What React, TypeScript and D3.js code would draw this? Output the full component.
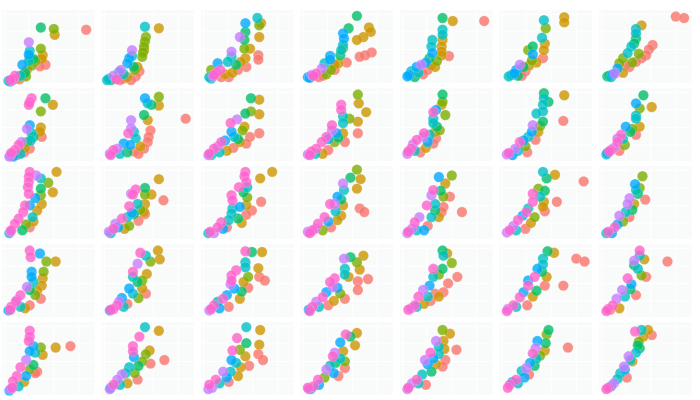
import React from "react";
import * as d3 from "d3";

type Pt = [number, number, number];

const hueColors = ["#F8766D", "#CD9600", "#7CAE00", "#00BE67", "#00BFC4", "#00A9FF", "#C77CFF", "#FF61CC"];
const nCols = 7;
const xTicks = [3, 29, 56, 83];
const yTicks = [22, 46, 70, 94];

const row0: Pt[][] = [
  [[91,73,0],[56,74,2],[42,76,3],[57,66,1],[29,56,6],[42,47,2],[44,38,1],[43,33,1],[47,25,0],[41,23,0],[30,44,4],[29,39,5],[30,35,3],[29,30,4],[34,33,3],[36,30,2],[32,24,2],[22,25,5],[27,18,1],[25,14,3],[23,11,0],[20,10,4],[14,10,7],[12,6,7],[9,4,7],[9,2,4],[12,4,6],[16,6,1],[18,8,0],[7,3,4],[19,5,0],[26,9,2]],
  [[47,77,4],[62,75,1],[48,63,2],[47,57,2],[46,50,2],[46,45,1],[45,42,2],[44,36,2],[33,45,6],[33,37,4],[30,34,5],[28,27,5],[35,22,3],[39,22,1],[41,16,0],[37,9,0],[21,18,6],[19,15,5],[24,12,4],[13,10,6],[8,6,4],[10,4,3],[16,5,7],[24,6,0],[32,4,0],[28,8,1],[6,4,4],[20,4,0],[36,18,2]],
  [[61,89,4],[65,82,1],[63,79,2],[48,82,5],[48,70,3],[47,59,3],[42,63,6],[63,63,1],[47,47,2],[53,47,1],[33,43,6],[62,38,0],[62,32,0],[49,22,0],[48,34,1],[43,29,1],[33,36,4],[29,29,4],[38,25,3],[40,18,0],[18,27,5],[11,18,2],[21,18,7],[17,15,7],[13,9,6],[11,6,4],[14,11,7],[26,12,1],[30,8,0],[9,8,4],[22,8,0],[34,14,1]],
  [[61,92,3],[52,75,3],[74,76,1],[76,70,1],[68,63,1],[61,59,1],[46,68,5],[47,61,5],[46,52,4],[46,48,2],[44,45,4],[43,38,3],[77,42,0],[70,38,0],[64,36,0],[50,28,0],[32,37,5],[32,32,5],[41,27,1],[37,25,1],[37,18,0],[26,27,4],[23,20,6],[17,13,7],[12,11,6],[8,8,5],[20,8,0],[28,12,2],[10,7,5],[14,10,7],[24,10,0],[33,18,2]],
  [[46,89,3],[57,85,1],[91,85,0],[46,73,4],[46,66,4],[46,59,1],[45,50,1],[45,43,1],[45,38,1],[53,37,0],[35,59,4],[34,50,4],[35,41,5],[32,34,3],[40,30,2],[23,25,6],[18,22,5],[12,16,4],[10,11,5],[30,18,0],[25,12,0],[16,8,3],[38,22,1],[8,9,5],[20,14,4],[28,28,5],[34,24,1]],
  [[48,86,4],[70,90,1],[70,83,1],[50,75,2],[46,62,4],[49,54,1],[48,45,1],[47,34,0],[36,50,3],[31,45,2],[36,39,5],[35,31,2],[40,28,1],[22,25,6],[18,18,5],[13,11,4],[20,10,3],[28,16,0],[10,9,4],[16,13,5],[26,22,3],[32,24,1],[24,10,0]],
  [[83,91,0],[92,89,0],[46,79,1],[40,74,4],[40,68,4],[40,61,3],[38,54,3],[58,52,0],[54,46,0],[51,38,0],[46,34,0],[40,29,0],[35,50,4],[31,41,4],[26,34,2],[22,27,2],[33,22,0],[20,20,5],[17,13,6],[9,9,3],[13,8,4],[26,14,1],[11,10,3],[15,12,5],[29,24,0],[36,28,2],[43,40,2]],
];

const row1: Pt[][] = [
  [[32,86,7],[30,81,7],[29,77,7],[47,86,3],[55,77,1],[42,68,2],[30,49,5],[27,44,6],[42,46,1],[41,40,1],[32,38,4],[34,33,3],[43,33,0],[27,26,2],[21,26,6],[30,17,0],[25,18,1],[18,22,7],[14,15,7],[10,11,7],[9,8,6],[12,6,5],[20,10,4],[16,8,0],[8,6,6],[24,12,0],[31,28,4]],
  [[47,86,5],[62,88,2],[50,79,4],[54,77,3],[62,76,1],[91,58,0],[46,63,3],[50,56,1],[32,56,6],[32,45,6],[35,40,4],[29,38,7],[37,31,4],[53,42,0],[51,33,0],[50,26,0],[46,17,0],[24,24,5],[17,17,6],[13,15,7],[10,8,7],[35,13,0],[42,20,1],[28,12,3],[9,10,6],[20,10,4],[31,22,5],[40,10,0]],
  [[54,86,3],[63,84,1],[54,68,2],[48,65,3],[63,64,1],[39,57,6],[32,52,7],[47,47,1],[45,42,2],[63,38,0],[53,33,0],[49,24,0],[33,40,5],[36,33,4],[40,30,3],[22,26,7],[18,20,6],[14,17,7],[9,10,7],[11,8,4],[28,14,1],[35,18,0],[8,8,6],[20,12,4],[26,28,5],[42,26,1]],
  [[62,91,2],[63,79,1],[71,67,1],[44,77,7],[44,70,7],[46,61,4],[46,52,4],[53,58,2],[62,54,1],[62,38,0],[39,38,5],[34,42,6],[34,49,7],[28,33,7],[46,38,1],[48,26,0],[37,26,2],[23,26,7],[17,17,7],[12,13,7],[8,9,6],[30,15,0],[24,10,1],[10,8,7],[16,10,4],[30,30,5],[41,32,3]],
  [[46,91,3],[46,81,2],[45,77,1],[39,70,5],[36,67,7],[49,63,2],[36,58,4],[36,52,4],[40,47,3],[38,40,1],[26,38,7],[25,33,6],[39,31,0],[36,24,0],[30,26,5],[18,29,7],[14,23,6],[12,17,7],[9,13,7],[22,12,0],[28,18,1],[8,10,6],[16,14,4],[32,36,4],[43,42,2]],
  [[48,93,3],[48,86,4],[53,81,3],[47,77,4],[47,68,4],[70,90,1],[69,55,0],[47,54,3],[40,65,4],[36,49,6],[35,40,5],[42,40,1],[31,33,4],[39,29,0],[22,26,7],[28,20,2],[17,17,6],[10,11,7],[14,8,5],[30,12,0],[8,9,6],[20,14,4],[26,28,5],[44,48,2]],
  [[48,90,3],[57,74,1],[40,79,5],[44,72,2],[40,62,4],[40,58,4],[44,47,1],[29,47,5],[40,36,0],[34,40,3],[24,36,7],[20,31,6],[20,26,7],[28,22,2],[13,15,7],[11,13,7],[8,9,4],[22,14,0],[9,11,5],[16,18,6],[26,30,4],[36,44,2]],
];

const row2: Pt[][] = [
  [[59,92,1],[30,92,7],[29,85,7],[29,78,7],[28,71,7],[29,62,7],[37,87,6],[42,83,4],[50,77,2],[55,64,1],[42,69,3],[42,60,2],[43,48,1],[38,39,1],[30,46,5],[33,30,4],[25,46,7],[23,37,7],[18,28,7],[14,21,7],[30,16,0],[10,12,7],[9,10,6],[22,12,3],[8,8,4],[26,20,2],[34,24,1],[36,56,5]],
  [[62,82,1],[67,53,0],[47,70,3],[47,61,2],[54,61,1],[37,68,7],[34,61,7],[32,62,6],[30,45,7],[39,48,4],[47,48,1],[46,37,1],[47,34,0],[33,36,5],[35,34,3],[40,25,0],[22,28,7],[15,21,6],[13,14,7],[8,10,6],[25,14,1],[30,18,2],[10,8,4],[18,16,5],[28,30,4],[42,40,2]],
  [[48,92,7],[47,86,7],[49,78,7],[50,71,4],[64,83,1],[77,92,1],[65,51,0],[41,71,7],[33,60,7],[34,53,7],[50,57,2],[49,46,1],[42,44,5],[34,42,4],[33,35,4],[55,39,0],[49,33,0],[40,28,3],[44,22,1],[22,23,7],[18,16,7],[10,10,7],[14,8,6],[28,16,0],[8,8,4],[24,14,5],[30,26,4],[46,64,3]],
  [[61,95,2],[54,84,3],[65,82,1],[61,69,1],[46,76,6],[47,67,4],[40,58,5],[44,54,3],[64,42,0],[69,37,0],[32,48,7],[37,48,6],[46,46,1],[44,32,1],[38,38,4],[26,30,7],[33,16,0],[19,21,7],[13,12,7],[8,10,6],[24,12,2],[10,8,7],[16,14,6],[30,24,5],[40,26,1]],
  [[42,85,5],[56,87,2],[49,76,1],[36,67,7],[34,60,6],[47,58,2],[54,58,0],[67,37,0],[47,44,0],[45,37,0],[29,46,7],[38,48,4],[38,39,3],[42,30,1],[21,30,6],[16,23,7],[9,10,7],[13,14,6],[30,18,0],[26,12,5],[8,8,6],[18,12,4],[34,30,4],[44,66,3]],
  [[47,92,4],[60,88,1],[51,83,3],[91,79,0],[42,69,2],[49,66,3],[36,62,7],[36,51,7],[48,51,1],[47,44,1],[62,51,0],[49,38,0],[31,42,4],[29,37,7],[25,32,5],[38,30,2],[20,26,7],[15,18,6],[11,12,7],[28,14,0],[8,9,6],[18,12,4],[34,22,1],[44,58,4]],
  [[47,86,2],[39,75,5],[40,67,4],[42,62,3],[50,54,0],[33,56,6],[31,48,6],[38,48,1],[29,37,4],[33,30,0],[22,32,6],[26,24,2],[17,16,7],[10,10,7],[14,8,5],[8,8,4],[20,20,5],[36,40,3],[44,70,2]],
];

const row3: Pt[][] = [
  [[30,91,7],[31,82,7],[41,87,5],[48,76,2],[58,76,1],[32,62,5],[32,55,5],[45,62,2],[44,53,1],[43,43,1],[27,41,6],[42,25,0],[30,37,3],[36,30,2],[20,30,7],[16,23,6],[15,21,7],[10,14,7],[7,9,5],[30,16,0],[25,12,1],[9,10,7],[20,14,4],[34,48,4],[38,36,1]],
  [[42,88,7],[61,91,1],[63,79,1],[48,84,4],[53,76,2],[39,73,6],[34,62,7],[34,55,4],[39,48,3],[30,39,5],[49,59,1],[44,39,1],[48,32,0],[40,26,2],[19,21,6],[17,16,7],[13,11,7],[28,18,0],[24,14,4],[9,9,5],[22,26,5],[34,32,4],[44,50,2],[10,10,7]],
  [[48,90,7],[55,89,3],[66,89,1],[62,67,1],[63,55,0],[69,50,0],[48,75,4],[48,68,4],[38,64,7],[51,55,2],[33,57,7],[33,50,7],[32,45,6],[36,39,5],[51,40,0],[44,35,3],[42,25,1],[24,25,7],[18,21,4],[14,16,7],[11,11,7],[30,14,0],[9,9,6],[20,12,5],[28,30,5],[46,48,1]],
  [[68,84,1],[54,82,3],[61,75,2],[64,65,1],[47,80,6],[48,66,4],[48,58,4],[73,52,0],[62,49,0],[62,37,0],[37,53,7],[32,48,7],[35,41,6],[52,55,1],[43,32,2],[40,40,5],[48,25,0],[24,27,7],[17,21,6],[13,14,7],[9,10,5],[30,16,0],[10,8,7],[20,14,4],[28,34,5],[36,22,1]],
  [[46,91,3],[47,84,4],[51,87,1],[56,74,2],[36,66,7],[46,66,3],[62,55,0],[52,46,0],[47,34,0],[36,55,4],[32,43,5],[38,32,0],[42,28,1],[25,37,6],[20,28,7],[16,16,7],[12,12,6],[26,18,1],[9,10,7],[18,14,4],[30,28,4],[42,58,2],[33,22,0]],
  [[83,80,0],[92,76,0],[52,90,3],[59,88,1],[47,80,4],[47,72,4],[41,66,5],[38,55,7],[51,55,1],[69,43,0],[49,43,0],[31,50,5],[31,43,7],[40,36,3],[22,27,7],[15,16,7],[9,11,6],[30,16,0],[8,8,7],[18,14,4],[26,34,5],[36,28,1],[46,62,3]],
  [[44,91,7],[38,77,6],[49,79,1],[42,66,4],[38,71,3],[74,76,0],[51,55,0],[46,57,2],[31,53,7],[35,45,5],[40,30,0],[25,37,6],[19,25,6],[15,16,7],[10,11,7],[22,12,1],[8,8,7],[28,28,4],[34,38,3],[44,84,4],[12,10,0]],
];

const row4: Pt[][] = [
  [[30,88,7],[30,80,7],[29,74,7],[58,65,1],[74,67,0],[34,67,5],[30,60,5],[42,65,2],[44,55,1],[36,58,4],[34,41,3],[26,48,6],[30,35,2],[38,32,0],[20,38,7],[16,26,7],[12,19,7],[11,10,7],[8,6,5],[24,18,1],[9,8,6],[18,12,4],[26,26,5],[36,30,0]],
  [[47,93,4],[62,88,1],[41,80,7],[34,67,7],[34,60,7],[35,52,5],[52,61,1],[48,56,2],[68,48,0],[53,43,0],[40,40,3],[30,38,4],[39,21,0],[22,28,6],[17,21,6],[13,14,7],[10,10,5],[28,16,1],[9,8,6],[20,14,4],[26,30,4],[36,30,2],[44,46,2]],
  [[49,93,4],[64,89,1],[39,78,7],[49,71,3],[63,69,1],[34,61,7],[42,62,2],[33,48,5],[48,53,1],[62,56,0],[67,48,0],[52,40,0],[43,38,1],[32,32,4],[24,32,6],[16,21,7],[9,14,7],[12,10,6],[30,18,0],[8,8,6],[20,16,4],[28,24,5],[38,44,4],[40,26,1]],
  [[61,85,1],[49,83,7],[54,80,3],[59,68,1],[43,72,5],[37,58,6],[35,53,7],[43,50,4],[48,46,2],[48,37,0],[28,35,6],[36,30,5],[41,26,0],[26,24,2],[19,21,7],[14,12,7],[8,10,7],[11,8,4],[9,8,6],[20,14,5],[32,40,4],[46,60,1],[38,44,3]],
  [[46,89,2],[54,84,1],[39,74,6],[47,74,1],[48,63,1],[61,62,0],[33,58,7],[42,56,4],[27,48,6],[30,42,5],[49,48,0],[39,42,1],[46,39,0],[34,32,3],[24,28,4],[18,21,7],[13,16,6],[9,10,7],[28,14,0],[8,8,6],[20,16,4],[36,50,5],[42,66,4]],
  [[53,89,3],[51,83,2],[50,71,3],[41,74,5],[49,61,1],[74,65,0],[39,64,6],[36,57,7],[40,50,4],[33,44,5],[29,37,6],[24,33,4],[32,28,0],[18,21,7],[14,18,5],[11,14,7],[9,10,7],[20,16,4],[27,24,5],[38,40,3],[44,54,2]],
  [[39,87,7],[46,89,4],[53,89,1],[57,82,0],[48,80,1],[43,73,2],[44,64,3],[40,58,4],[32,53,6],[36,46,1],[27,39,6],[28,35,5],[23,30,4],[30,24,0],[16,16,6],[13,12,5],[10,10,7],[8,8,7],[20,22,4],[34,48,4],[42,68,3]],
];

const panels: Pt[][] = [...row0, ...row1, ...row2, ...row3, ...row4];

const W = 700;
const H = 400;
const panelW = 92.5;
const panelH = 73;
const left0 = 2;
const top0 = 10;
const stepX = 99.5;
const stepY = 78;

export default function App() {
  const x = d3.scaleLinear().domain([0, 100]).range([0, panelW]);
  const y = d3.scaleLinear().domain([0, 100]).range([panelH, 0]);
  return (
    <svg width={W} height={H} style={{ position: "absolute", left: 0, top: 0, background: "#fff" }}>
      {panels.map((pts, i) => {
        const r = Math.floor(i / nCols);
        const c = i % nCols;
        const sorted = [...pts].sort((a, b) => a[2] - b[2]);
        return (
          <g key={i} transform={`translate(${left0 + c * stepX},${top0 + r * stepY})`}>
            <rect width={panelW} height={panelH} fill="#F9FAFA" />
            {xTicks.map((t) => (
              <line key={"x" + t} x1={x(t)} x2={x(t)} y1={0} y2={panelH} stroke="#fff" strokeWidth={1} />
            ))}
            {yTicks.map((t) => (
              <line key={"y" + t} x1={0} x2={panelW} y1={y(t)} y2={y(t)} stroke="#fff" strokeWidth={1} />
            ))}
            {sorted.map((p, j) => (
              <circle key={j} cx={x(p[0])} cy={y(p[1])} r={5.2} fill={hueColors[p[2]]} fillOpacity={0.8} stroke="#fff" strokeOpacity={0.3} strokeWidth={0.6} />
            ))}
          </g>
        );
      })}
    </svg>
  );
}
